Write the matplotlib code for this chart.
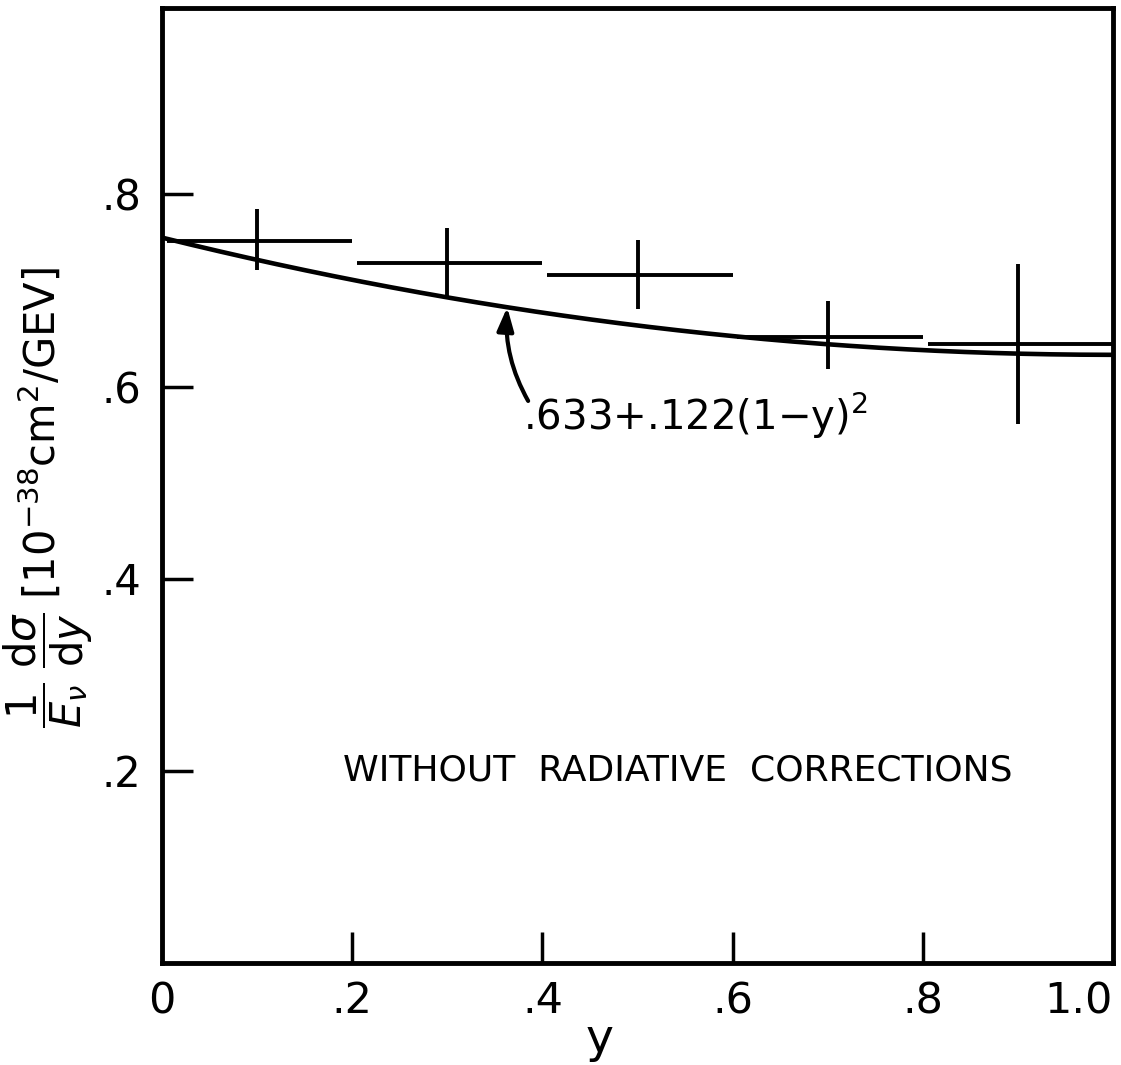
import numpy as np
import matplotlib
matplotlib.use("Agg")
import matplotlib.pyplot as plt

# Binned cross-section measurements
bin_lo = [0.0, 0.2, 0.4, 0.6, 0.8]
bin_hi = [0.2, 0.4, 0.6, 0.8, 1.0]
sigma_vals = [0.751, 0.729, 0.716, 0.652, 0.644]
sigma_err_up = [0.034, 0.036, 0.036, 0.037, 0.084]
sigma_err_dn = [0.030, 0.036, 0.035, 0.034, 0.083]

# Fit parameters: a + b (1 - y)^2
fit_a = 0.633
fit_b = 0.122

x_ticks = [0.0, 0.2, 0.4, 0.6, 0.8, 1.0]
x_tick_labels = ["0", ".2", ".4", ".6", ".8", "1.0"]
y_ticks = [0.2, 0.4, 0.6, 0.8]
y_tick_labels = [".2", ".4", ".6", ".8"]

plt.rcParams["font.family"] = ["DejaVu Sans"]
plt.rcParams["mathtext.fontset"] = "dejavusans"

fig = plt.figure(figsize=(11.21, 10.65), dpi=100)
ax = fig.add_axes([0.1445, 0.0958, 0.8484, 0.8967])

lw = 2.8
centers = [(lo + hi) / 2 for lo, hi in zip(bin_lo, bin_hi)]
for lo, hi, c, v, eu, ed in zip(bin_lo, bin_hi, centers, sigma_vals,
                                sigma_err_up, sigma_err_dn):
    ax.plot([lo + 0.005, hi], [v, v], color="black", lw=lw, solid_capstyle="butt")
    ax.plot([c, c], [v - ed, v + eu], color="black", lw=lw, solid_capstyle="butt")

yy = np.linspace(0, 1.0, 200)
ax.plot(yy, fit_a + fit_b * (1 - yy) ** 2, color="black", lw=3.3)

ax.set_xlim(0, 1.0)
ax.set_ylim(0, 0.994)

ax.set_xticks(x_ticks[1:-1])
ax.set_xticklabels([])
ax.set_yticks(y_ticks)
ax.set_yticklabels(y_tick_labels, fontsize=30)
ax.tick_params(axis="both", direction="in", length=22, width=2.5, color="black")
ax.tick_params(axis="y", pad=15)

# x tick labels, including both axis ends
for xv, lab in zip(x_ticks, x_tick_labels):
    ha = "right" if xv == 1.0 else "center"
    ax.text(xv, -0.018, lab, ha=ha, va="top", fontsize=31,
            transform=ax.get_xaxis_transform())

for sp in ax.spines.values():
    sp.set_linewidth(3.5)
    sp.set_color("black")

fig.text(0.535, 1 - 1040 / 1065, "y", fontsize=34, ha="center", va="center")
fig.text(0.043, 1 - 498 / 1065,
         r"$\dfrac{1}{E_\nu}\;\dfrac{\mathrm{d}\sigma}{\mathrm{d}y}\;\left[10^{-38}\mathrm{cm}^2/\mathrm{GEV}\right]$",
         fontsize=30, rotation=90, ha="center", va="center")

# Fit annotation with curved arrow
x_arrow = 0.363
ax.annotate("", xy=(x_arrow, fit_a + fit_b * (1 - x_arrow) ** 2),
            xytext=(0.385, 0.585),
            arrowprops=dict(arrowstyle="-|>,head_length=1.4,head_width=0.5",
                            color="black", lw=3, shrinkA=0, shrinkB=0,
                            connectionstyle="arc3,rad=-0.15"))
ax.text(0.38, 0.555, r".633+.122(1$-$y)$^{2}$", fontsize=29,
        ha="left", va="baseline")

ax.text(0.19, 0.2, "WITHOUT  RADIATIVE  CORRECTIONS", fontsize=26,
        ha="left", va="center")

fig.savefig("out.png", dpi=100, facecolor="white")
